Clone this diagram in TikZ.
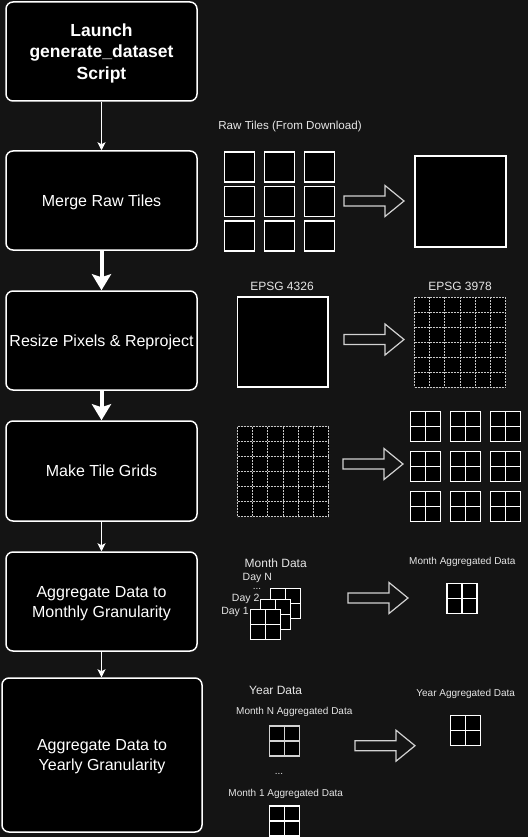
\documentclass[tikz,border=0pt]{standalone}
\usepackage{fontspec}
\setmainfont{Liberation Sans}
\usetikzlibrary{arrows.meta}
\definecolor{bg}{HTML}{141414}
\definecolor{lbl}{HTML}{E6E6E6}
\definecolor{arw}{HTML}{D2D2D2}
\definecolor{dotc}{HTML}{C8C8C8}
\begin{document}
\begin{tikzpicture}[x=1pt,y=-1pt,
  stepbox/.style={draw=white,line width=1.5pt,fill=black,rounded corners=7pt,text=white,align=center,inner sep=0pt,minimum width=191pt,minimum height=99pt,text depth=0pt,font=\fontsize{16}{20}\selectfont},
  thinarrow/.style={draw=white,line width=1pt,-{Stealth[width=8pt,length=8pt,inset=2pt]}},
  thickarrow/.style={draw=white,line width=4pt,-{Stealth[width=19pt,length=16pt,inset=3pt]}},
  lab/.style={text=lbl,inner sep=0pt,font=\fontsize{11.6}{13}\selectfont},
  labm/.style={text=lbl,inner sep=0pt,font=\fontsize{12}{14}\selectfont},
  labs/.style={text=lbl,inner sep=0pt,font=\fontsize{10}{12}\selectfont},
  tileline/.style={draw=white,line width=1.3pt,fill=black},
  quad/.pic={\draw[tileline] (0,0) rectangle (30,30); \draw[white,line width=1.3pt] (15,0)--(15,30) (0,15)--(30,15);},
  grayquad/.pic={\draw[draw=lbl!80!gray,line width=1.3pt,fill=black] (0,0) rectangle (30,30); \draw[lbl!80!gray,line width=1.3pt] (15,0)--(15,30) (0,15)--(30,15);},
  dgrid/.pic={\fill[black] (0,0) rectangle (91,90);
    \foreach \i in {0,...,6} {\draw[dotc,line width=1pt,dash pattern=on 2pt off 1pt] (\i*91/6,0)--(\i*91/6,90) (0,\i*15)--(91,\i*15);}},
  barrow/.pic={\draw[arw,line width=1.2pt,fill=bg,line join=miter] (0,-5)--(41,-5)--(41,-15.5)--(60,0)--(41,15.5)--(41,5)--(0,5)--cycle;}
]
\fill[bg] (0,0) rectangle (528,837);
\useasboundingbox (0,0) rectangle (528,837);

% flow boxes
\node[stepbox,font=\bfseries\fontsize{17.5}{21.5}\selectfont] (s1) at (101.5,51.5) {Launch\\generate\_dataset\\Script};
\node[stepbox] (s2) at (101.5,200.5) {Merge Raw Tiles};
\node[stepbox] (s3) at (101.5,340.5) {Resize Pixels \& Reproject};
\node[stepbox,minimum height=100pt] (s4) at (101.5,471) {Make Tile Grids};
\node[stepbox] (s5) at (101.5,601.5) {Aggregate Data to\\Monthly Granularity};
\node[stepbox,minimum width=200pt,minimum height=154pt] (s6) at (102,755) {Aggregate Data to\\Yearly Granularity};

\draw[thinarrow] (s1.south) -- (s2.north);
\draw[thickarrow] (s2.south) -- (s3.north);
\draw[thickarrow] (s3.south) -- (s4.north);
\draw[thinarrow] (s4.south) -- (s5.north);
\draw[thinarrow] (s5.south) -- (s5.south |- s6.north);

% merge raw tiles
\node[lab] (rawlbl) at (290,126) {Raw Tiles (From Download)};
\foreach \x in {224.3,264.3,304.3}
  \foreach \y in {152,186.5,221}
    \draw[tileline] (\x,\y) rectangle ++(30,30);
\pic at (344,201) {barrow};
\draw[tileline] (415,156) rectangle (506,247);

% resize & reproject
\node[labm] (e4326) at (282,286) {EPSG 4326};
\draw[tileline] (237.5,297) rectangle (328,387);
\pic at (344,339.5) {barrow};
\node[labm] (e3978) at (460,286) {EPSG 3978};
\pic at (414.5,297) {dgrid};

% tile grids
\pic at (237.5,426.5) {dgrid};
\pic at (343,464) {barrow};
\foreach \x in {410.3,450.3,490.3}
  \foreach \y in {411.3,451.3,491.3}
    \pic at (\x,\y) {quad};

% monthly
\node[labm] (mdata) at (275.7,563.3) {Month Data};
\node[labs,font=\fontsize{10.5}{12}\selectfont] (dayn) at (257.3,578.3) {Day N};
\node[labs] (mdots) at (257,589) {...};
\node[labs,font=\fontsize{10.5}{12}\selectfont] (day2) at (245.7,599) {Day 2};
\node[labs,font=\fontsize{10.5}{12}\selectfont] (day1) at (235,611.7) {Day 1};
\pic at (270.7,588.3) {quad};
\pic at (260.7,599.3) {quad};
\pic at (250.3,609.3) {quad};
\pic at (348,598) {barrow};
\node[labs] (magg) at (462.3,562.3) {Month Aggregated Data};
\pic at (447,583.3) {quad};

% yearly
\node[labm] (ydata) at (275.7,690) {Year Data};
\node[labs] (mnagg) at (294.3,712.3) {Month N Aggregated Data};
\pic at (269.3,726) {grayquad};
\node[labs] (ydots) at (279,774) {...};
\node[labs] (m1agg) at (285.7,794.3) {Month 1 Aggregated Data};
\pic at (269.3,806) {quad};
\pic at (355,745.7) {barrow};
\node[labs] (yagg) at (465.7,694) {Year Aggregated Data};
\pic at (450.7,715.7) {quad};
\end{tikzpicture}
\end{document}
